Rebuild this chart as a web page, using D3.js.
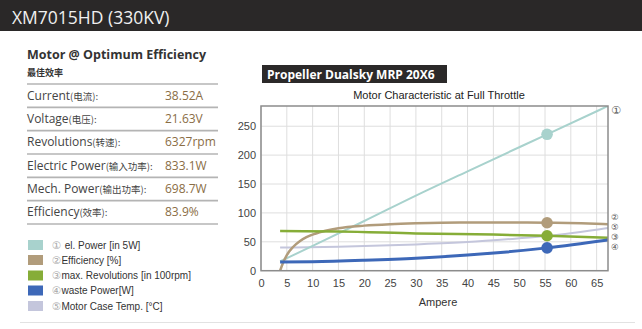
<!DOCTYPE html>
<html>
<head>
<meta charset="utf-8">
<script src="https://cdn.jsdelivr.net/npm/d3@7"></script>
<style>
  html, body { margin: 0; padding: 0; background: #fff; }
  svg { display: block; }
</style>
</head>
<body>
<svg id="chart" width="642" height="329"></svg>
<script>
// ---- motor data sheet: XM7015HD (330KV) ----
const motorTitle = "XM7015HD (330KV)";
const propTitle = "Propeller Dualsky MRP 20X6";
const chartTitle = "Motor Characteristic at Full Throttle";

// optimum-efficiency table
const specLabels = ["Current", "Voltage", "Revolutions", "Electric Power", "Mech. Power", "Efficiency"];
const specLabelsCN = ["(电流):", "(电压):", "(转速):", "(输入功率):", "(输出功率):", "(效率):"];
const specValues = ["38.52A", "21.63V", "6327rpm", "833.1W", "698.7W", "83.9%"];

// series (x = current in A)
const seriesNames = ["el. Power [in 5W]", "Efficiency [%]", "max. Revolutions [in 100rpm]", "waste Power[W]", "Motor Case Temp. [°C]"];
const seriesMarks = ["①", "②", "③", "④", "⑤"];
const seriesColors = ["#a8d2cd", "#b19c7b", "#86ad38", "#3d68b8", "#c4c6dc"];

const elPower = [[3.7, 16], [10, 43], [20, 86], [30, 130], [40, 172], [55.4, 236], [67.2, 285]];
const efficiency = [[3.7, 0], [4.2, 12], [5, 27], [6.2, 41], [7.5, 51], [8.8, 58], [10.5, 64], [12.5, 69],
  [15, 73.5], [20, 78], [25, 80.5], [30, 82], [38.5, 83.4], [47, 83.4], [55.4, 83], [62, 82], [67.2, 80.5]];
const revolutions = [[3.7, 68.5], [15, 68], [30, 64.5], [45, 62.5], [55.4, 60.5], [67.2, 57]];
const wastePower = [[3.7, 15], [10, 15.5], [20, 18], [30, 21.5], [40, 27], [47, 32], [55.4, 39.5], [67.2, 53]];
const caseTemp = [[3.7, 40], [15, 41.5], [30, 45.5], [40, 49.5], [50, 56], [55.4, 60], [67.2, 74]];

// operating point markers at full throttle with the propeller
const markerCurrent = 55.4;
const markerValues = [236, 83, 60.5, 39.5];

const xTicks = d3.range(0, 66, 5);
const yTicks = d3.range(0, 251, 50);

const svg = d3.select("#chart");

// ---- header bar ----
svg.append("rect").attr("x", 0).attr("y", 0).attr("width", 642).attr("height", 31).attr("fill", "#2a2828");
svg.append("text").attr("x", 12).attr("y", 24)
  .attr("font-family", "Open Sans").attr("font-size", 17.5).attr("fill", "#f0f0f0")
  .text(motorTitle);

// ---- left panel: optimum efficiency table ----
svg.append("text").attr("x", 27).attr("y", 59)
  .attr("font-family", "Open Sans").attr("font-weight", 700).attr("font-size", 12.5).attr("fill", "#333")
  .text("Motor @ Optimum Efficiency");
svg.append("text").attr("x", 27).attr("y", 76)
  .attr("font-family", "Noto Sans CJK SC").attr("font-weight", 700).attr("font-size", 9).attr("fill", "#333")
  .text("最佳效率");

const rowY = d3.scaleLinear().domain([0, 6]).range([84, 224]);
d3.range(7).forEach(i => {
  svg.append("line").attr("x1", 27).attr("x2", 218).attr("y1", rowY(i)).attr("y2", rowY(i))
    .attr("stroke", "#b4b4b4").attr("stroke-width", 1.6);
});
specLabels.forEach((lab, i) => {
  const t = svg.append("text").attr("x", 27).attr("y", rowY(i) + 15.5)
    .attr("font-family", "Open Sans").attr("font-size", 12).attr("fill", "#444");
  t.append("tspan").text(lab);
  t.append("tspan").attr("font-family", "Noto Sans CJK SC").attr("font-size", 9.5).text(specLabelsCN[i]);
  svg.append("text").attr("x", 165).attr("y", rowY(i) + 15.5)
    .attr("font-family", "Open Sans").attr("font-size", 12).attr("fill", "#8a6d45")
    .text(specValues[i]);
});

// ---- legend ----
const legY = [245, 260, 275.5, 290.5, 306];
seriesNames.forEach((name, i) => {
  svg.append("rect").attr("x", 28).attr("y", legY[i] - 5).attr("width", 15).attr("height", 10)
    .attr("fill", seriesColors[i]);
  const t = svg.append("text").attr("x", 52).attr("y", legY[i] + 3.5)
    .attr("font-family", "Liberation Sans").attr("font-size", 10).attr("fill", "#333");
  t.append("tspan").attr("fill", "#aaa").attr("font-family", "DejaVu Sans").attr("font-size", 10.5)
    .text(seriesMarks[i] + (i === 0 ? " " : ""));
  t.append("tspan").text(name);
});
svg.append("line").attr("x1", 20).attr("x2", 635).attr("y1", 322.5).attr("y2", 322.5)
  .attr("stroke", "#e2e2e2").attr("stroke-width", 1);

// ---- propeller caption ----
svg.append("rect").attr("x", 262).attr("y", 65).attr("width", 185).attr("height", 18).attr("fill", "#2b2929");
svg.append("text").attr("x", 267).attr("y", 79)
  .attr("font-family", "Open Sans").attr("font-weight", 700).attr("font-size", 12).attr("fill", "#fff")
  .text(propTitle);

// ---- chart ----
const plot = { left: 261, right: 608, top: 106, bottom: 270.7 };
const x = d3.scaleLinear().domain([0, 67.2]).range([plot.left, plot.right]);
const y = d3.scaleLinear().domain([0, 285]).range([plot.bottom, plot.top]);

svg.append("text").attr("x", 439).attr("y", 98.5).attr("text-anchor", "middle")
  .attr("font-family", "Liberation Sans").attr("font-size", 11).attr("fill", "#222")
  .text(chartTitle);

// grid
const grid = svg.append("g");
grid.selectAll("line.gx").data(xTicks).join("line")
  .attr("x1", d => x(d)).attr("x2", d => x(d)).attr("y1", plot.top).attr("y2", plot.bottom)
  .attr("stroke", "#dedede").attr("stroke-width", 1);
grid.selectAll("line.gy").data(yTicks).join("line")
  .attr("x1", plot.left).attr("x2", plot.right).attr("y1", d => y(d)).attr("y2", d => y(d))
  .attr("stroke", "#dedede").attr("stroke-width", 1);

// axes
const xAxis = d3.axisBottom(x).tickValues(xTicks).tickSize(0).tickPadding(9);
const yAxis = d3.axisLeft(y).tickValues(yTicks).tickSize(0).tickPadding(5);
const gx = svg.append("g").attr("transform", `translate(0,${plot.bottom})`).call(xAxis);
const gy = svg.append("g").attr("transform", `translate(${plot.left},0)`).call(yAxis);
[gx, gy].forEach(g => {
  g.select(".domain").remove();
  g.selectAll("text").attr("font-family", "Liberation Sans").attr("font-size", 11).attr("fill", "#444");
});

svg.append("text").attr("x", 438).attr("y", 306).attr("text-anchor", "middle")
  .attr("font-family", "Liberation Sans").attr("font-size", 11).attr("fill", "#333")
  .text("Ampere");

// curves
const line = d3.line().x(d => x(d[0])).y(d => y(d[1])).curve(d3.curveMonotoneX);
const seriesData = [elPower, efficiency, revolutions, wastePower, caseTemp];
const widths = [2, 2.5, 2.5, 3, 2];
const drawOrder = [4, 0, 1, 2, 3];
svg.append("clipPath").attr("id", "plotclip").append("rect")
  .attr("x", plot.left).attr("y", plot.top).attr("width", plot.right - plot.left).attr("height", plot.bottom - plot.top);
const curves = svg.append("g").attr("clip-path", "url(#plotclip)");
drawOrder.forEach(i => {
  curves.append("path").datum(seriesData[i]).attr("d", line)
    .attr("fill", "none").attr("stroke", seriesColors[i]).attr("stroke-width", widths[i]);
});

// operating point markers
markerValues.forEach((v, i) => {
  svg.append("circle").attr("cx", x(markerCurrent)).attr("cy", y(v)).attr("r", 5.8)
    .attr("fill", seriesColors[i]);
});

// plot frame
svg.append("rect").attr("x", plot.left).attr("y", plot.top)
  .attr("width", plot.right - plot.left).attr("height", plot.bottom - plot.top)
  .attr("fill", "none").attr("stroke", "#8c8c8c").attr("stroke-width", 1.5);

// end labels, spread apart so they do not overlap
const ends = seriesData.map((s, i) => ({ i, y: Math.max(y(s[s.length - 1][1]), plot.top + 4) }));
ends.sort((a, b) => a.y - b.y);
const gap = 10;
for (let k = 0; k < 80; k++) {
  for (let j = 1; j < ends.length; j++) {
    const d = ends[j].y - ends[j - 1].y;
    if (d < gap) {
      const shift = (gap - d) / 2;
      ends[j - 1].y -= shift;
      ends[j].y += shift;
    }
  }
}
ends.forEach(e => {
  svg.append("text").attr("x", 611).attr("y", e.y).attr("dy", "0.35em")
    .attr("font-family", "DejaVu Sans").attr("font-size", e.i === 0 ? 11 : 8.5).attr("fill", "#555")
    .text(seriesMarks[e.i]);
});
</script>
</body>
</html>
